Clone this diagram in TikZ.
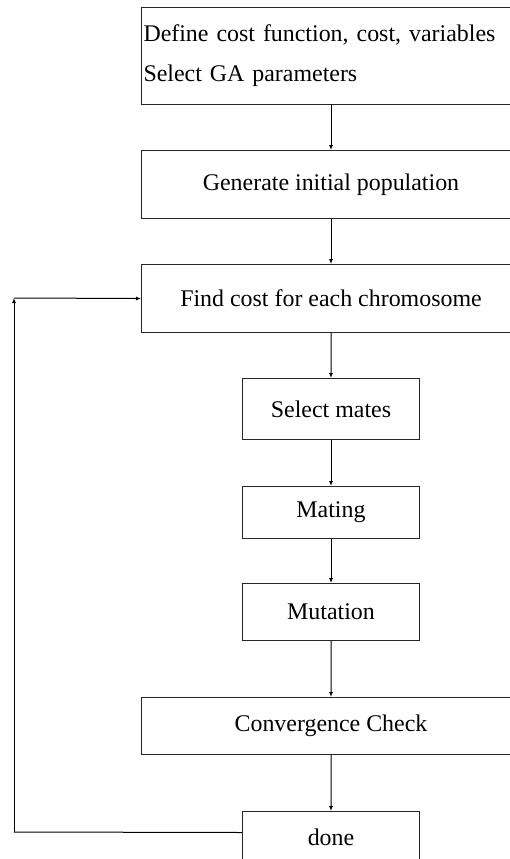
\documentclass[tikz,border=0pt]{standalone}
\usepackage{fontspec}
\setmainfont{Liberation Serif}
\usetikzlibrary{arrows.meta}
\begin{document}
\begin{tikzpicture}[x=1bp,y=-1bp,
  box/.style={draw=black!85, line width=1bp, inner sep=0pt, anchor=north west,
              font=\fontsize{24}{28}\selectfont},
  wide/.style={box, minimum width=379bp},
  narrow/.style={box, minimum width=177bp},
  conn/.style={draw=black, line width=1bp},
  arr/.style={conn, -{Latex[length=5bp,width=4bp]}}]
\useasboundingbox (0,0) rectangle (510,859);
\node[wide, minimum height=97bp, text width=375bp, inner xsep=2bp, align=left,
      font=\fontsize{24}{40}\selectfont] (def) at (141,7)
  {Define cost function, cost, variables\\Select GA parameters};
\node[wide, minimum height=68bp] (gen) at (141,150) {Generate initial population};
\node[wide, minimum height=68bp] (find) at (141,264) {Find cost for each chromosome};
\node[narrow, minimum height=61bp] (sel) at (242,378) {Select mates};
\node[narrow, minimum height=52bp] (mat) at (242,486) {Mating};
\node[narrow, minimum height=57bp] (mut) at (242,583) {Mutation};
\node[wide, minimum height=57bp] (conv) at (141,697) {Convergence Check};
\node[narrow, minimum height=52bp] (done) at (242,811) {done};
\draw[arr] (def.south) -- (gen.north);
\draw[arr] (gen.south) -- (find.north);
\draw[arr] (find.south) -- (sel.north);
\draw[arr] (sel.south) -- (mat.north);
\draw[arr] (mat.south) -- (mut.north);
\draw[arr] (mut.south) -- (conv.north);
\draw[arr] (conv.south) -- (done.north);
\coordinate (lo) at (14,832);
\coordinate (hi) at (14,298);
\draw[conn] ([yshift=5bp]done.west) -- (lo);
\draw[arr] (lo) -- (hi);
\draw[arr] (hi) -- (find.west);
\end{tikzpicture}
\end{document}
